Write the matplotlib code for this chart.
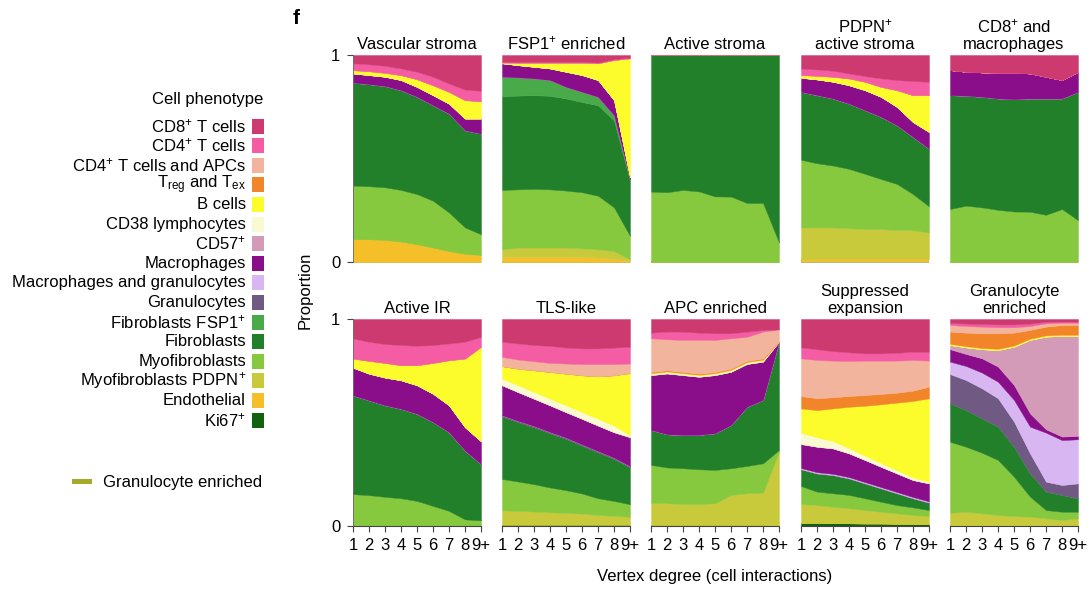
"""
Stacked cell-phenotype proportions by vertex degree for each community type.
"""

import numpy as np
import matplotlib.pyplot as plt
from matplotlib.patches import Rectangle

plt.rcParams["font.family"] = ["Liberation Sans", "DejaVu Sans"]
plt.rcParams["mathtext.fontset"] = "custom"
plt.rcParams["mathtext.rm"] = "Liberation Sans"
plt.rcParams["mathtext.it"] = "Liberation Sans:italic"
plt.rcParams["mathtext.bf"] = "Liberation Sans:bold"

FS = 12

degree_labels = ["1", "2", "3", "4", "5", "6", "7", "8", "9+"]

# legend order (top of the stack first)
phenotypes = [
    "CD8", "CD4", "CD4_APC", "Treg_Tex", "B", "CD38", "CD57", "Mac",
    "MacGran", "Gran", "FSP1", "Fib", "Myo", "PDPN", "Endo", "Ki67",
]
phenotype_labels = [
    "CD8$^{+}$ T cells", "CD4$^{+}$ T cells", "CD4$^{+}$ T cells and APCs",
    r"T$_{\mathrm{reg}}$ and T$_{\mathrm{ex}}$", "B cells", "CD38 lymphocytes",
    "CD57$^{+}$", "Macrophages", "Macrophages and granulocytes", "Granulocytes",
    "Fibroblasts FSP1$^{+}$", "Fibroblasts", "Myofibroblasts",
    "Myofibroblasts PDPN$^{+}$", "Endothelial", "Ki67$^{+}$",
]
phenotype_colors = [
    "#CC3A70", "#F45DA3", "#F2B49C", "#F2842A", "#FCFC2C", "#F9F9D4",
    "#D49BB8", "#8A0E8A", "#D8B6F2", "#705A84", "#48AA48", "#227F2A",
    "#86C83E", "#C8CA3C", "#F5BF2A", "#11620F",
]

vascular_stroma = {
    "Endo": [0.110, 0.110, 0.107, 0.099, 0.086, 0.070, 0.053, 0.040, 0.034],
    "Myo": [0.259, 0.256, 0.254, 0.249, 0.242, 0.226, 0.186, 0.127, 0.100],
    "Fib": [0.497, 0.493, 0.489, 0.482, 0.470, 0.461, 0.478, 0.469, 0.486],
    "Mac": [0.045, 0.044, 0.045, 0.049, 0.048, 0.049, 0.048, 0.057, 0.073],
    "B": [0.016, 0.019, 0.019, 0.024, 0.037, 0.048, 0.057, 0.089, 0.084],
    "CD4": [0.033, 0.033, 0.034, 0.032, 0.036, 0.041, 0.040, 0.051, 0.050],
    "CD8": [0.040, 0.045, 0.052, 0.065, 0.081, 0.105, 0.138, 0.167, 0.173],
}

fsp1_enriched = {
    "Endo": [0.025, 0.025, 0.025, 0.025, 0.025, 0.025, 0.022, 0.015, 0.008],
    "PDPN": [0.036, 0.045, 0.045, 0.045, 0.045, 0.041, 0.039, 0.038, 0.005],
    "Myo": [0.287, 0.281, 0.283, 0.281, 0.275, 0.271, 0.259, 0.211, 0.113],
    "Fib": [0.453, 0.453, 0.453, 0.452, 0.445, 0.436, 0.437, 0.420, 0.267],
    "FSP1": [0.094, 0.088, 0.081, 0.076, 0.056, 0.049, 0.041, 0.025, 0.008],
    "Mac": [0.065, 0.059, 0.056, 0.056, 0.073, 0.081, 0.081, 0.073, 0.008],
    "B": [0.004, 0.012, 0.020, 0.028, 0.044, 0.060, 0.081, 0.194, 0.575],
    "CD4": [0.004, 0.004, 0.004, 0.004, 0.004, 0.004, 0.004, 0.004, 0.004],
    "CD8": [0.032, 0.033, 0.033, 0.033, 0.033, 0.033, 0.036, 0.020, 0.012],
}

active_stroma = {
    "Myo": [0.340, 0.337, 0.348, 0.341, 0.317, 0.316, 0.285, 0.285, 0.094],
    "Fib": [0.660, 0.663, 0.652, 0.659, 0.683, 0.684, 0.715, 0.715, 0.906],
}

pdpn_active_stroma = {
    "Endo": [0.015, 0.015, 0.015, 0.015, 0.015, 0.015, 0.015, 0.015, 0.015],
    "PDPN": [0.152, 0.152, 0.152, 0.148, 0.145, 0.144, 0.140, 0.139, 0.127],
    "Myo": [0.327, 0.310, 0.299, 0.287, 0.266, 0.242, 0.222, 0.174, 0.127],
    "Fib": [0.328, 0.329, 0.324, 0.315, 0.307, 0.300, 0.283, 0.276, 0.278],
    "Mac": [0.068, 0.076, 0.081, 0.089, 0.097, 0.097, 0.089, 0.072, 0.081],
    "B": [0.013, 0.018, 0.024, 0.033, 0.041, 0.048, 0.081, 0.130, 0.178],
    "CD4": [0.032, 0.030, 0.029, 0.024, 0.027, 0.041, 0.049, 0.068, 0.065],
    "CD8": [0.065, 0.070, 0.076, 0.089, 0.102, 0.113, 0.121, 0.126, 0.129],
}

cd8_macrophages = {
    "Myo": [0.256, 0.272, 0.264, 0.252, 0.244, 0.243, 0.228, 0.256, 0.202],
    "Fib": [0.550, 0.531, 0.534, 0.538, 0.542, 0.547, 0.562, 0.534, 0.620],
    "Mac": [0.121, 0.116, 0.118, 0.124, 0.128, 0.121, 0.105, 0.089, 0.097],
    "CD8": [0.073, 0.081, 0.084, 0.086, 0.086, 0.089, 0.105, 0.121, 0.081],
}

active_ir = {
    "Myo": [0.154, 0.149, 0.141, 0.134, 0.121, 0.097, 0.073, 0.032, 0.027],
    "Fib": [0.477, 0.458, 0.442, 0.432, 0.421, 0.405, 0.380, 0.332, 0.272],
    "Mac": [0.134, 0.129, 0.134, 0.138, 0.138, 0.137, 0.130, 0.113, 0.110],
    "B": [0.044, 0.062, 0.071, 0.073, 0.097, 0.149, 0.218, 0.332, 0.457],
    "CD4": [0.097, 0.092, 0.091, 0.097, 0.094, 0.086, 0.081, 0.081, 0.048],
    "CD8": [0.094, 0.110, 0.121, 0.126, 0.129, 0.126, 0.118, 0.110, 0.086],
}

tls_like = {
    "Ki67": [0.005, 0.005, 0.005, 0.005, 0.005, 0.005, 0.005, 0.005, 0.005],
    "PDPN": [0.071, 0.068, 0.065, 0.061, 0.058, 0.055, 0.048, 0.044, 0.040],
    "Myo": [0.151, 0.142, 0.132, 0.120, 0.110, 0.097, 0.081, 0.072, 0.060],
    "Fib": [0.302, 0.287, 0.275, 0.262, 0.248, 0.231, 0.222, 0.203, 0.178],
    "Gran": [0.006, 0.006, 0.006, 0.006, 0.006, 0.006, 0.006, 0.006, 0.006],
    "Mac": [0.145, 0.139, 0.132, 0.129, 0.123, 0.124, 0.123, 0.123, 0.140],
    "CD38": [0.032, 0.033, 0.032, 0.032, 0.033, 0.032, 0.033, 0.032, 0.008],
    "B": [0.060, 0.080, 0.105, 0.129, 0.153, 0.178, 0.205, 0.243, 0.302],
    "CD4_APC": [0.045, 0.044, 0.044, 0.044, 0.049, 0.054, 0.059, 0.054, 0.046],
    "CD4": [0.073, 0.078, 0.078, 0.082, 0.077, 0.076, 0.076, 0.080, 0.081],
    "CD8": [0.110, 0.118, 0.126, 0.130, 0.138, 0.142, 0.142, 0.138, 0.134],
}

apc_enriched = {
    "Ki67": [0.006, 0.006, 0.006, 0.006, 0.006, 0.006, 0.006, 0.006, 0.000],
    "PDPN": [0.107, 0.104, 0.100, 0.099, 0.104, 0.144, 0.152, 0.155, 0.359],
    "Myo": [0.182, 0.173, 0.173, 0.169, 0.161, 0.129, 0.132, 0.142, 0.008],
    "Fib": [0.169, 0.160, 0.161, 0.166, 0.177, 0.209, 0.286, 0.306, 0.523],
    "Mac": [0.265, 0.294, 0.289, 0.281, 0.281, 0.257, 0.207, 0.185, 0.000],
    "CD38": [0.006, 0.006, 0.006, 0.006, 0.006, 0.006, 0.006, 0.006, 0.002],
    "B": [0.004, 0.004, 0.004, 0.004, 0.004, 0.004, 0.004, 0.004, 0.000],
    "Treg_Tex": [0.005, 0.005, 0.005, 0.005, 0.005, 0.005, 0.005, 0.005, 0.002],
    "CD4_APC": [0.163, 0.150, 0.155, 0.163, 0.155, 0.147, 0.116, 0.130, 0.056],
    "CD4": [0.027, 0.037, 0.040, 0.035, 0.032, 0.024, 0.025, 0.008, 0.000],
    "CD8": [0.066, 0.061, 0.061, 0.066, 0.069, 0.069, 0.061, 0.053, 0.050],
}

suppressed_expansion = {
    "Ki67": [0.015, 0.015, 0.014, 0.013, 0.012, 0.012, 0.011, 0.010, 0.010],
    "PDPN": [0.091, 0.086, 0.079, 0.073, 0.065, 0.057, 0.050, 0.043, 0.038],
    "Myo": [0.087, 0.065, 0.065, 0.064, 0.057, 0.048, 0.040, 0.037, 0.029],
    "Fib": [0.081, 0.088, 0.088, 0.080, 0.072, 0.065, 0.057, 0.044, 0.036],
    "MacGran": [0.006, 0.006, 0.006, 0.006, 0.006, 0.006, 0.006, 0.006, 0.006],
    "Mac": [0.116, 0.123, 0.123, 0.115, 0.107, 0.098, 0.090, 0.082, 0.087],
    "CD38": [0.055, 0.045, 0.035, 0.025, 0.020, 0.018, 0.015, 0.012, 0.008],
    "B": [0.117, 0.132, 0.158, 0.200, 0.242, 0.284, 0.327, 0.370, 0.403],
    "Treg_Tex": [0.060, 0.057, 0.054, 0.052, 0.052, 0.050, 0.048, 0.050, 0.056],
    "CD4_APC": [0.182, 0.185, 0.177, 0.169, 0.166, 0.161, 0.155, 0.148, 0.126],
    "CD4": [0.053, 0.052, 0.046, 0.042, 0.035, 0.035, 0.038, 0.040, 0.043],
    "CD8": [0.137, 0.146, 0.155, 0.161, 0.166, 0.166, 0.163, 0.158, 0.158],
}

granulocyte_enriched = {
    "PDPN": [0.064, 0.069, 0.061, 0.053, 0.048, 0.045, 0.037, 0.029, 0.037],
    "Myo": [0.343, 0.314, 0.293, 0.266, 0.190, 0.097, 0.040, 0.040, 0.032],
    "Fib": [0.186, 0.177, 0.166, 0.161, 0.145, 0.113, 0.089, 0.081, 0.065],
    "Gran": [0.141, 0.145, 0.145, 0.137, 0.121, 0.096, 0.048, 0.048, 0.072],
    "MacGran": [0.060, 0.068, 0.076, 0.080, 0.105, 0.129, 0.237, 0.217, 0.213],
    "Mac": [0.060, 0.058, 0.069, 0.073, 0.072, 0.064, 0.016, 0.017, 0.016],
    "CD57": [0.020, 0.032, 0.044, 0.080, 0.185, 0.355, 0.448, 0.486, 0.483],
    "B": [0.006, 0.006, 0.006, 0.006, 0.006, 0.006, 0.006, 0.006, 0.006],
    "Treg_Tex": [0.059, 0.065, 0.071, 0.075, 0.062, 0.042, 0.042, 0.047, 0.047],
    "CD4_APC": [0.032, 0.032, 0.032, 0.029, 0.026, 0.019, 0.016, 0.011, 0.011],
    "CD4": [0.010, 0.012, 0.013, 0.014, 0.014, 0.012, 0.008, 0.006, 0.006],
    "CD8": [0.019, 0.022, 0.024, 0.026, 0.026, 0.022, 0.013, 0.012, 0.012],
}

panels = [
    ("Vascular stroma", vascular_stroma),
    ("FSP1$^{+}$ enriched", fsp1_enriched),
    ("Active stroma", active_stroma),
    ("PDPN$^{+}$\nactive stroma", pdpn_active_stroma),
    ("CD8$^{+}$ and\nmacrophages", cd8_macrophages),
    ("Active IR", active_ir),
    ("TLS-like", tls_like),
    ("APC enriched", apc_enriched),
    ("Suppressed\nexpansion", suppressed_expansion),
    ("Granulocyte\nenriched", granulocyte_enriched),
]

W, H = 1092, 592
fig = plt.figure(figsize=(W / 100, H / 100), dpi=100)

col_left = [353, 502, 651, 801, 950]
row_top = [55, 319]
pw, ph = 128, 207

x = np.arange(len(degree_labels))
stack_keys = phenotypes[::-1]
stack_colors = phenotype_colors[::-1]

for i, (title, data) in enumerate(panels):
    r, c = divmod(i, 5)
    ax = fig.add_axes([col_left[c] / W, 1 - (row_top[r] + ph) / H, pw / W, ph / H])
    ys = np.array([data.get(k, [0.0] * len(x)) for k in stack_keys])
    ys = ys / ys.sum(axis=0)
    ax.stackplot(x, ys, colors=stack_colors, linewidth=0.3, edgecolor="face")
    ax.set_xlim(0, len(x) - 1)
    ax.set_ylim(0, 1)
    ax.set_title(title, fontsize=FS, pad=4, linespacing=1.2)
    for s in ["top", "right"]:
        ax.spines[s].set_visible(False)
    ax.tick_params(direction="out", length=4, width=0.8, color="#444444", labelsize=FS)

    if c == 0:
        ax.set_yticks([0, 1])
        ax.set_yticklabels(["0", "1"])
        ax.tick_params(axis="y", pad=5)
        ax.spines["left"].set_color("#666666")
        ax.spines["left"].set_linewidth(0.6)
    else:
        ax.set_yticks([])
        ax.spines["left"].set_visible(False)

    if r == 1:
        ax.set_xticks(x)
        ax.set_xticklabels(degree_labels)
        ax.tick_params(axis="x", pad=5)
        ax.spines["bottom"].set_color("#444444")
        ax.spines["bottom"].set_linewidth(0.8)
    else:
        ax.set_xticks([])
        ax.spines["bottom"].set_visible(False)

fig.text(296 / W, 1 - 18 / H, "f", fontsize=15, fontweight="bold", ha="center", va="center")
fig.text(305 / W, 1 - 290 / H, "Proportion", rotation=90, fontsize=FS, ha="center", va="center")
fig.text(715 / W, 1 - 577 / H, "Vertex degree (cell interactions)", fontsize=FS,
         ha="center", va="center")

# Phenotype colour key, drawn by hand so labels sit right-aligned beside the swatches
fig.text(263 / W, 1 - 100 / H, "Cell phenotype", fontsize=FS, ha="right", va="center")
for j, (lab, col) in enumerate(zip(phenotype_labels, phenotype_colors)):
    yc = 126 + j * 19.6
    fig.text(246 / W, 1 - yc / H, lab, fontsize=FS, ha="right", va="center")
    fig.patches.append(Rectangle((252 / W, 1 - (yc + 7.5) / H), 12 / W, 15 / H,
                                 facecolor=col, edgecolor="none",
                                 transform=fig.transFigure, figure=fig))

fig.patches.append(Rectangle((72 / W, 1 - 484 / H), 20 / W, 5 / H, facecolor="#A5AA28",
                             edgecolor="none", transform=fig.transFigure, figure=fig))
fig.text(103 / W, 1 - 483 / H, "Granulocyte enriched", fontsize=FS, ha="left", va="center")

fig.savefig("out.png", dpi=100)
